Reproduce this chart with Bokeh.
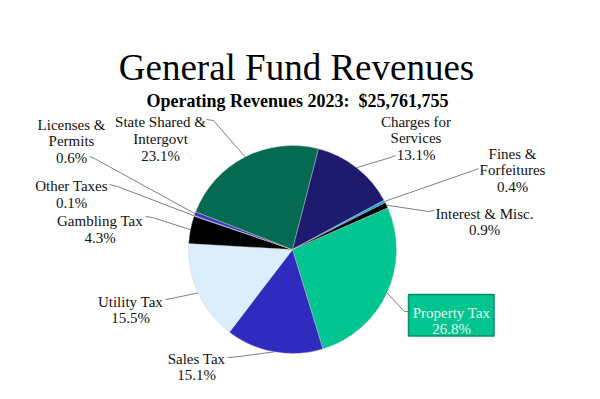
import math
from bokeh.plotting import figure
from bokeh.models import Range1d
from bokeh.core.properties import value
from bokeh.embed import file_html
from bokeh.resources import INLINE

# ---------------- data ----------------
categories = ["Property Tax", "Sales Tax", "Utility Tax", "Gambling Tax", "Other Taxes",
              "Licenses & Permits", "State Shared & Intergovt", "Charges for Services",
              "Fines & Forfeitures", "Interest & Misc."]
percents = [26.8, 15.1, 15.5, 4.3, 0.1, 0.6, 23.1, 13.1, 0.4, 0.9]
label_lines = [["Property Tax"], ["Sales Tax"], ["Utility Tax"], ["Gambling Tax"], ["Other Taxes"],
               ["Licenses &", "Permits"], ["State Shared &", "Intergovt"], ["Charges for", "Services"],
               ["Fines &", "Forfeitures"], ["Interest & Misc."]]
title_text = "General Fund Revenues"
subtitle_text = "Operating Revenues 2023: \u00a0$25,761,755"

# ---------------- styles / layout ----------------
colors = ["#00c590", "#2f2bbf", "#dcedfb", "#000000", "#9a9a9a",
          "#3a35c8", "#046b52", "#1e1b6e", "#1aa3f0", "#000000"]
W, H = 584, 383
FONT = "Liberation Serif"

def S(sx, sy):
    # convert page-pixel layout position to data coordinates
    return sx, H - sy

# label layout in page pixels: (center x, first baseline), leader start, leader elbow
label_layout = [
    ((451, 312), (408, 311), (404, 311)),
    ((196, 358), (227, 357), (235, 356.5)),
    ((130, 301), (165, 299), (171, 298)),
    ((99.5, 220.5), (145, 216), (152, 217)),
    ((71, 185.5), (109, 184), (117, 186)),
    ((71, 124), (89, 156), (94, 158)),
    ((160, 121.5), (206, 119), (213, 120)),
    ((415.5, 121), (395, 155), (390, 157)),
    ((512, 153), (478, 168), (473, 170)),
    ((484, 213), (434, 210), (428, 211)),
]
line_gap = 16.8
cx, cy = S(292, 249)
R = 104
start_deg = 23.6

p = figure(width=W, height=H, x_range=Range1d(0, W), y_range=Range1d(0, H),
           x_axis_type=None, y_axis_type=None, toolbar_location=None,
           output_backend="svg", min_border=0)
p.outline_line_color = None
p.grid.visible = False
p.background_fill_color = "white"

total = sum(percents)
ang = math.radians(start_deg)
starts, ends, mids = [], [], []
for pc in percents:
    span = pc / total * 2 * math.pi
    hi, lo = ang, ang - span
    starts.append(lo)
    ends.append(hi)
    mids.append((hi + lo) / 2)
    ang = lo

p.wedge(x=cx, y=cy, radius=R, start_angle=starts, end_angle=ends,
        fill_color=colors, line_color="#cfcfcf", line_width=0.4)

# leader lines
for i, (lab, st, el) in enumerate(label_layout):
    ex = cx + R * math.cos(mids[i])
    ey = cy + R * math.sin(mids[i])
    sx, sy = S(*st)
    bx, by = S(*el)
    p.line([sx, bx, ex], [sy, by, ey], line_color="#808080", line_width=1)

# property tax box
bx0, by0 = S(408, 294)
bx1, by1 = S(493.5, 335.5)
p.quad(left=bx0, right=bx1, top=by0, bottom=by1, fill_color="#00c590",
       line_color="#0b8d68", line_width=1.5)

# labels
for i, (lab, st, el) in enumerate(label_layout):
    lines = label_lines[i] + [f"{percents[i]:.1f}%"]
    lx, ly = S(*lab)
    col = "#e8f8f1" if i == 0 else "#111111"
    xs = [lx] * len(lines)
    ys = [ly - k * line_gap for k in range(len(lines))]
    p.text(x=xs, y=ys, text=lines, text_align="center", text_baseline="alphabetic",
           text_font=value(FONT), text_font_size="15px", text_color=col)

# titles
tx, ty = S(296, 67)
p.text(x=[tx], y=[ty], text=[title_text], text_align="center", text_baseline="alphabetic",
       text_font=value(FONT), text_font_size="37px", text_color="#000000")
sx_, sy_ = S(297, 100)
p.text(x=[sx_], y=[sy_], text=[subtitle_text], text_align="center", text_baseline="alphabetic",
       text_font=value(FONT), text_font_size="18px", text_font_style="bold", text_color="#000000")

open("out.html", "w").write(file_html(p, INLINE))
